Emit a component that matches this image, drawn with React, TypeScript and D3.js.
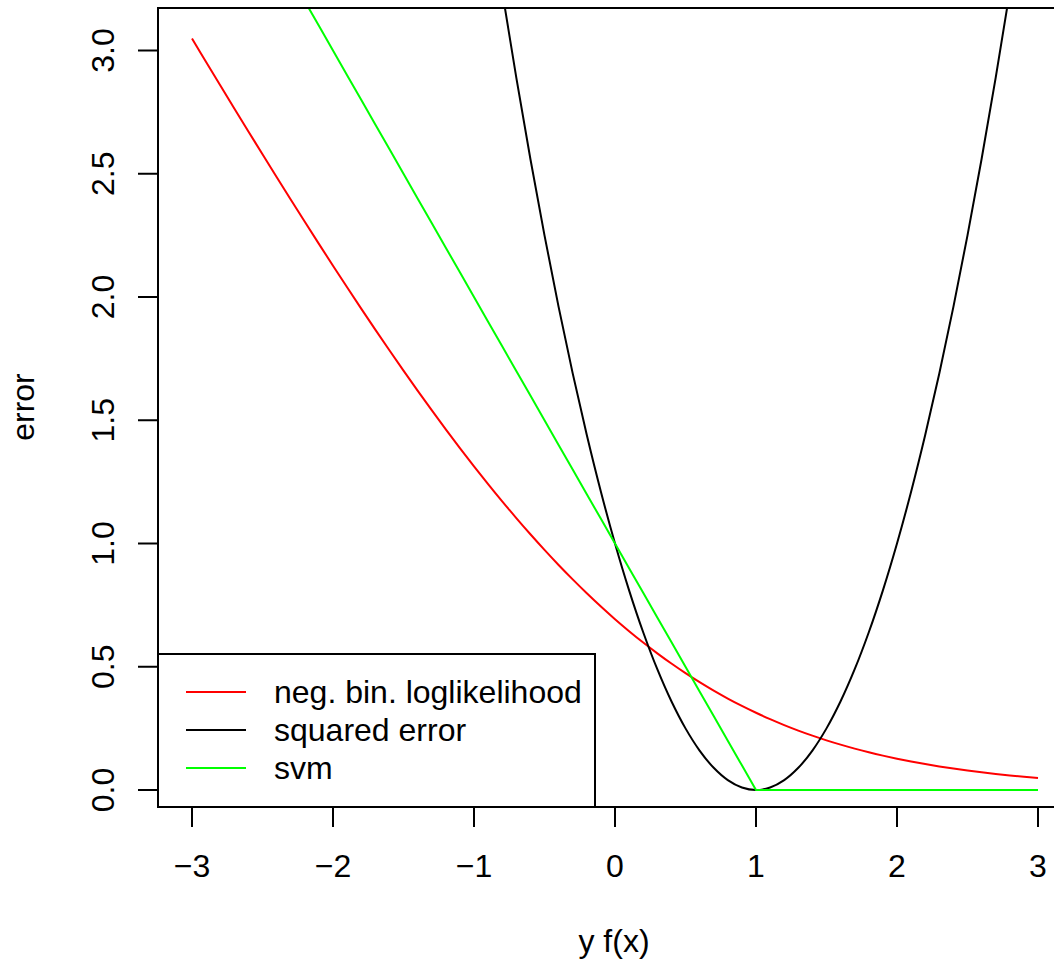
import { useEffect, useRef } from 'react';
import * as d3 from 'd3';

const xValues = [
  -3.0, -2.9, -2.8, -2.7, -2.6, -2.5, -2.4, -2.3, -2.2, -2.1,
  -2.0, -1.9, -1.8, -1.7, -1.6, -1.5, -1.4, -1.3, -1.2, -1.1,
  -1.0, -0.9, -0.8, -0.7, -0.6, -0.5, -0.4, -0.3, -0.2, -0.1,
  0.0, 0.1, 0.2, 0.3, 0.4, 0.5, 0.6, 0.7, 0.8, 0.9,
  1.0, 1.1, 1.2, 1.3, 1.4, 1.5, 1.6, 1.7, 1.8, 1.9,
  2.0, 2.1, 2.2, 2.3, 2.4, 2.5, 2.6, 2.7, 2.8, 2.9, 3.0,
];

const negBinLogLik = [
  3.0486, 2.9535, 2.859, 2.7651, 2.6717, 2.5789, 2.4868, 2.3955, 2.3051, 2.2155,
  2.1269, 2.0394, 1.953, 1.8678, 1.784, 1.7014, 1.6204, 1.541, 1.4633, 1.3873,
  1.3133, 1.2412, 1.1711, 1.1032, 1.0375, 0.9741, 0.913, 0.8544, 0.7981, 0.7444,
  0.6931, 0.6444, 0.5981, 0.5544, 0.513, 0.4741, 0.4375, 0.4032, 0.3711, 0.3412,
  0.3133, 0.2873, 0.2633, 0.241, 0.2204, 0.2014, 0.184, 0.1678, 0.153, 0.1394,
  0.1269, 0.1155, 0.1051, 0.0955, 0.0868, 0.0789, 0.0717, 0.0651, 0.059, 0.0535, 0.0486,
];

const squaredError = [
  16, 15.21, 14.44, 13.69, 12.96, 12.25, 11.56, 10.89, 10.24, 9.61,
  9, 8.41, 7.84, 7.29, 6.76, 6.25, 5.76, 5.29, 4.84, 4.41,
  4, 3.61, 3.24, 2.89, 2.56, 2.25, 1.96, 1.69, 1.44, 1.21,
  1, 0.81, 0.64, 0.49, 0.36, 0.25, 0.16, 0.09, 0.04, 0.01,
  0, 0.01, 0.04, 0.09, 0.16, 0.25, 0.36, 0.49, 0.64, 0.81,
  1, 1.21, 1.44, 1.69, 1.96, 2.25, 2.56, 2.89, 3.24, 3.61, 4,
];

const svm = [
  4, 3.9, 3.8, 3.7, 3.6, 3.5, 3.4, 3.3, 3.2, 3.1,
  3, 2.9, 2.8, 2.7, 2.6, 2.5, 2.4, 2.3, 2.2, 2.1,
  2, 1.9, 1.8, 1.7, 1.6, 1.5, 1.4, 1.3, 1.2, 1.1,
  1, 0.9, 0.8, 0.7, 0.6, 0.5, 0.4, 0.3, 0.2, 0.1,
  0, 0, 0, 0, 0, 0, 0, 0, 0, 0,
  0, 0, 0, 0, 0, 0, 0, 0, 0, 0, 0,
];

const xTicks = [-3, -2, -1, 0, 1, 2, 3];
const yTicks = [0, 0.5, 1, 1.5, 2, 2.5, 3];

const seriesNames = ['neg. bin. loglikelihood', 'squared error', 'svm'];
const seriesColors = ['#ff0000', '#000000', '#00ff00'];

export default function App() {
  const svgRef = useRef<SVGSVGElement>(null);

  useEffect(() => {
    const width = 1054;
    const height = 963;
    const box = { left: 158, right: 1072, top: 8, bottom: 807 };
    const font = 'Liberation Sans, Arial, Helvetica, sans-serif';
    const fs = 32;

    const svg = d3.select(svgRef.current);
    svg.selectAll('*').remove();

    const x = d3.scaleLinear().domain([-3, 3]).range([192, 1038]);
    const y = d3.scaleLinear().domain([0, 3]).range([790, 50.5]);

    svg.append('defs').append('clipPath').attr('id', 'plotclip')
      .append('rect')
      .attr('x', box.left).attr('y', box.top)
      .attr('width', box.right - box.left).attr('height', box.bottom - box.top);

    const smooth = d3.line<number>()
      .x((_, i) => x(xValues[i]))
      .y(d => y(d))
      .curve(d3.curveCatmullRom.alpha(0.5));
    const straight = d3.line<number>()
      .x((_, i) => x(xValues[i]))
      .y(d => y(d));

    const plot = svg.append('g').attr('clip-path', 'url(#plotclip)');
    [negBinLogLik, squaredError, svm].forEach((vals, k) => {
      plot.append('path')
        .datum(vals)
        .attr('fill', 'none')
        .attr('stroke', seriesColors[k])
        .attr('stroke-width', 2)
        .attr('stroke-linejoin', 'round')
        .attr('d', k === 2 ? straight : smooth);
    });

    // box
    svg.append('rect')
      .attr('x', box.left).attr('y', box.top)
      .attr('width', box.right - box.left).attr('height', box.bottom - box.top)
      .attr('fill', 'none').attr('stroke', '#000').attr('stroke-width', 2);

    // x axis
    const xa = svg.append('g');
    xa.selectAll('line').data(xTicks).join('line')
      .attr('x1', d => x(d)).attr('x2', d => x(d))
      .attr('y1', box.bottom).attr('y2', box.bottom + 20)
      .attr('stroke', '#000').attr('stroke-width', 2);
    xa.selectAll('text').data(xTicks).join('text')
      .attr('x', d => x(d)).attr('y', 877)
      .attr('text-anchor', 'middle')
      .attr('font-family', font).attr('font-size', fs)
      .text(d => (d < 0 ? '\u2212' + Math.abs(d) : String(d)));

    // y axis
    const ya = svg.append('g');
    ya.selectAll('line').data(yTicks).join('line')
      .attr('x1', box.left - 20).attr('x2', box.left)
      .attr('y1', d => y(d)).attr('y2', d => y(d))
      .attr('stroke', '#000').attr('stroke-width', 2);
    ya.selectAll('text').data(yTicks).join('text')
      .attr('transform', d => `translate(114,${y(d)}) rotate(-90)`)
      .attr('text-anchor', 'middle')
      .attr('font-family', font).attr('font-size', fs)
      .text(d => d.toFixed(1));

    // axis titles
    svg.append('text')
      .attr('x', 614).attr('y', 952)
      .attr('text-anchor', 'middle')
      .attr('font-family', font).attr('font-size', fs)
      .text('y f(x)');
    svg.append('text')
      .attr('transform', 'translate(34,407) rotate(-90)')
      .attr('text-anchor', 'middle')
      .attr('font-family', font).attr('font-size', fs)
      .text('error');

    // legend
    const lg = svg.append('g');
    lg.append('rect')
      .attr('x', 158).attr('y', 654)
      .attr('width', 595 - 158).attr('height', 807 - 654)
      .attr('fill', '#fff').attr('stroke', '#000').attr('stroke-width', 2);
    const rowY = [692, 730, 768];
    seriesNames.forEach((name, i) => {
      lg.append('line')
        .attr('x1', 186).attr('x2', 246)
        .attr('y1', rowY[i]).attr('y2', rowY[i])
        .attr('stroke', seriesColors[i]).attr('stroke-width', 2);
      lg.append('text')
        .attr('x', 274).attr('y', rowY[i])
        .attr('dy', '0.35em')
        .attr('font-family', font).attr('font-size', fs)
        .text(name);
    });

    svg.attr('width', width).attr('height', height);
  }, []);

  return (
    <svg
      ref={svgRef}
      width={1054}
      height={963}
      style={{ position: 'absolute', left: 0, top: 0, background: '#fff' }}
    />
  );
}
